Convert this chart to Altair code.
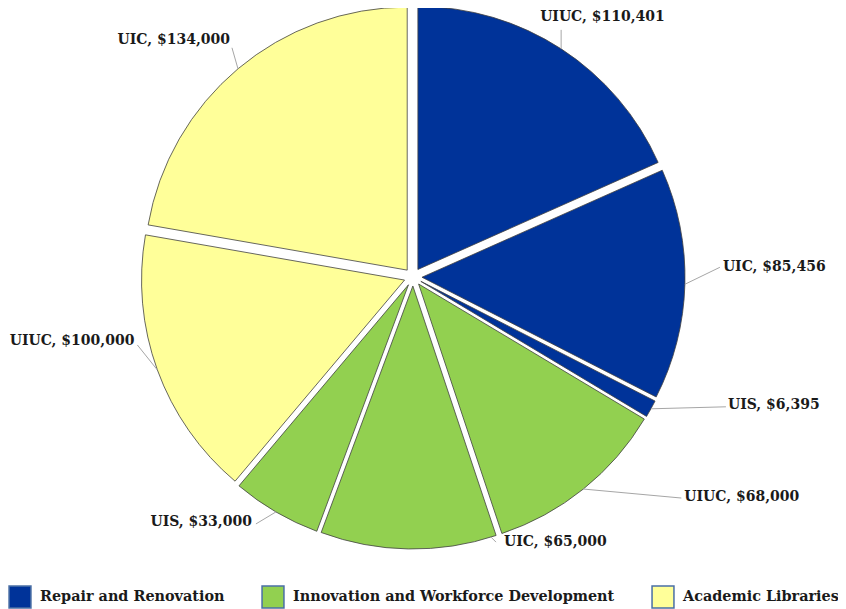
import altair as alt
import pandas as pd

# ---- data ----
campus = ["UIUC", "UIC", "UIS", "UIUC", "UIC", "UIS", "UIUC", "UIC"]
program = (["Repair and Renovation"] * 3
           + ["Innovation and Workforce Development"] * 3
           + ["Academic Libraries"] * 2)
amount = [110401, 85456, 6395, 68000, 65000, 33000, 100000, 134000]

programs = ["Repair and Renovation", "Innovation and Workforce Development", "Academic Libraries"]
colors = ["#003399", "#92D050", "#FFFF99"]

# ---- label layout tweaks (leader vector, text offset, attach fraction, align) ----
leader_dx = [0, 35, 75, 98, 5, -20, -20, -6]
leader_dy = [-19, -17, -2, 9, 5, 12, -25, -21]
text_dx = [-21, 3, 2, 3, 8, -4, -3, -2]
text_dy = [-13, 0, -2, -1, 0, -2, -4, -8]
attach = [0.5, 0.5, 0.5, 0.5, 0.03, 0.5, 0.5, 0.5]
align = ["left", "left", "left", "left", "left", "right", "right", "right"]

CX, CY, R, D = 405, 269, 263, 9
FONT = "DejaVu Serif"
FS = 14
LFS = 14.4

df = pd.DataFrame({
    "campus": campus, "program": program, "amount": amount,
    "order": list(range(len(amount))),
    "ldx": leader_dx, "ldy": leader_dy, "tdx": text_dx, "tdy": text_dy,
    "frac": attach, "align": align,
})

base = (
    alt.Chart(df)
    .transform_window(cum="sum(amount)", sort=[alt.SortField("order")], frame=[None, 0])
    .transform_joinaggregate(total="sum(amount)")
    .transform_calculate(a0="2*PI*(datum.cum-datum.amount)/datum.total")
    .transform_calculate(a1="2*PI*datum.cum/datum.total")
    .transform_calculate(mid="(datum.a0+datum.a1)/2")
    .transform_calculate(sx=f"{CX}+{D}*sin(datum.mid)")
    .transform_calculate(sy=f"{CY}-{D}*cos(datum.mid)")
    .transform_calculate(la="datum.a0+datum.frac*(datum.a1-datum.a0)")
    .transform_calculate(ex=f"datum.sx+{R}*sin(datum.la)")
    .transform_calculate(ey=f"datum.sy-{R}*cos(datum.la)")
    .transform_calculate(lx="datum.ex+datum.ldx")
    .transform_calculate(ly="datum.ey+datum.ldy")
    .transform_calculate(tx="datum.lx+datum.tdx")
    .transform_calculate(ty="datum.ly+datum.tdy")
    .transform_calculate(label="datum.campus + ', $' + format(datum.amount, ',')")
)

arcs = base.mark_arc(radius=R, stroke="#404040", strokeWidth=0.8).encode(
    theta=alt.Theta("a0:Q", scale=None, stack=None),
    theta2=alt.Theta2("a1:Q"),
    x=alt.X("sx:Q", scale=None, axis=None),
    y=alt.Y("sy:Q", scale=None, axis=None),
    color=alt.Color(
        "program:N",
        scale=alt.Scale(domain=programs, range=colors),
        legend=alt.Legend(
            title=None, orient="none", legendX=0, legendY=577, padding=0,
            direction="horizontal", symbolType="square", symbolSize=480,
            symbolStrokeColor="#4A6FA5", symbolStrokeWidth=1.5,
            labelFont=FONT, labelFontSize=LFS, labelFontWeight="bold",
            labelColor="#1a1a1a", columnPadding=34, labelOffset=8,
            labelLimit=400,
        ),
    ),
)

leaders = base.mark_rule(color="#A6A6A6", strokeWidth=1).encode(
    x=alt.X("ex:Q", scale=None, axis=None),
    y=alt.Y("ey:Q", scale=None, axis=None),
    x2="lx:Q", y2="ly:Q",
)

def text_layer(al):
    return base.transform_filter(f"datum.align == '{al}'").mark_text(
        align=al, baseline="middle", font=FONT, fontSize=FS,
        fontWeight="bold", color="#1a1a1a",
    ).encode(
        x=alt.X("tx:Q", scale=None, axis=None),
        y=alt.Y("ty:Q", scale=None, axis=None),
        text="label:N",
    )

chart = alt.layer(arcs, leaders, text_layer("left"), text_layer("right")).properties(
    width=830, height=601, autosize=alt.AutoSizeParams(type="none"), padding=0,
).configure_view(stroke=None)

chart.save("out.html", embed_options={"renderer": "svg", "actions": False})
